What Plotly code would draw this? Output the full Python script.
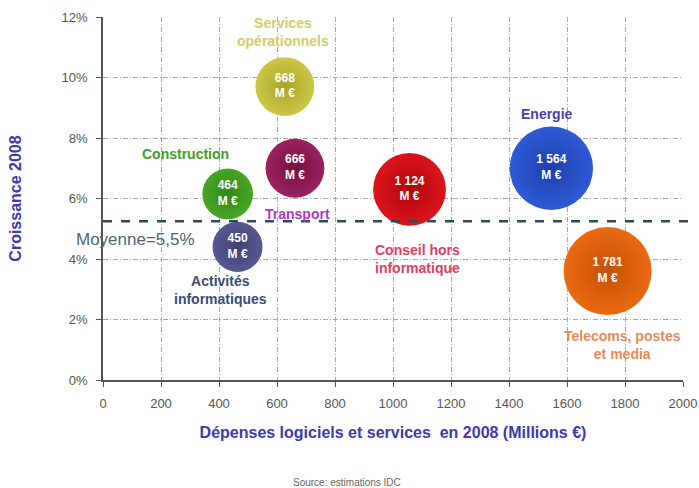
import plotly.graph_objects as go

# ---- data ----
sectors = ["Services opérationnels", "Transport", "Construction", "Activités informatiques",
           "Conseil hors informatique", "Energie", "Telecoms, postes et media"]
spend = [668, 666, 464, 450, 1124, 1564, 1781]          # M€ (bubble labels / sizes)
spend_labels = ["668", "666", "464", "450", "1 124", "1 564", "1 781"]
x_pos = [627, 662, 430, 464, 1057, 1546, 1740]          # position
growth = [9.7, 7.0, 6.15, 4.4, 6.3, 7.0, 3.6]           # % croissance 2008
average = 5.25                                           # dashed "Moyenne" line
x_ticks = [0, 200, 400, 600, 800, 1000, 1200, 1400, 1600, 1800, 2000]
y_ticks = [0, 2, 4, 6, 8, 10, 12]
y_ticklabels = ["0%", "2%", "4%", "6%", "8%", "10%", "12%"]

# ---- styles ----
fill = ["#cdc748", "#9a2260", "#48a626", "#585892", "#dc141c", "#2e5ad6", "#ea6a12"]
edge = ["#aaa42a", "#76103f", "#328816", "#404274", "#b0060c", "#1e40aa", "#c45008"]
label_color = ["#d2cd6a", "#a83cc8", "#3d9e2c", "#3a4c78", "#de4062", "#4a3eb4", "#e88a5a"]
label_text = ["Services<br>opérationnels", "Transport", "Construction", "Activités<br>informatiques",
              "Conseil hors<br>informatique", "Energie", "Telecoms, postes<br>et media"]
label_xy = [(620, 11.5), (669, 5.48), (284, 7.47), (406, 2.99), (1085, 3.99), (1532, 8.8), (1792, 1.16)]
sizes = [88 * (v / max(spend)) ** 0.41 for v in spend]

FONT = "Liberation Sans, Arial"

fig = go.Figure()
fig.add_trace(go.Scatter(
    x=x_pos, y=growth, mode="markers+text",
    text=[f"<b>{s}<br>M €</b>" for s in spend_labels],
    textposition="middle center",
    textfont=dict(family=FONT, size=12, color="white"),
    marker=dict(size=sizes, sizemode="diameter", color=fill, opacity=1,
                line=dict(width=0),
                gradient=dict(type="radial", color=edge)),
    cliponaxis=False, hoverinfo="skip", showlegend=False,
))

for t, (lx, ly), c in zip(label_text, label_xy, label_color):
    fig.add_annotation(x=lx, y=ly, xref="x", yref="y", text=f"<b>{t}</b>",
                       showarrow=False, font=dict(family=FONT, size=14, color=c),
                       xanchor="center", yanchor="middle")

fig.add_shape(type="line", xref="paper", yref="y", x0=0, x1=1.012, y0=average, y1=average,
              line=dict(color="#2c4a5c", width=2.5, dash="dash"), layer="above")
fig.add_annotation(xref="paper", yref="y", x=-0.05, y=4.65, text="Moyenne=5,5%",
                   showarrow=False, xanchor="left", yanchor="middle",
                   font=dict(family=FONT, size=17, color="#4d6474"))

fig.add_annotation(xref="paper", yref="paper", x=0.42, y=-0.283, text="Source: estimations IDC",
                   showarrow=False, xanchor="center", yanchor="middle",
                   font=dict(family="Liberation Sans Narrow, Liberation Sans, Arial", size=10, color="#666"))

axis_common = dict(showgrid=True, gridcolor="#a8a8a8", griddash="5px,2px,1px,2px", gridwidth=1,
                   showline=True, linecolor="#555", linewidth=1.5, ticks="outside",
                   ticklen=5, tickcolor="#555", zeroline=False, automargin=False,
                   tickfont=dict(family=FONT, size=13, color="#555"))

fig.update_xaxes(range=[0, 2000], tickvals=x_ticks, ticklabelstandoff=6, **axis_common,
                 title=dict(text="<b>Dépenses logiciels et services  en 2008 (Millions €)</b>",
                            font=dict(family=FONT, size=16, color="#4038b0"),
                            standoff=16))
fig.update_yaxes(range=[0, 12], tickvals=y_ticks, ticktext=y_ticklabels, ticklabelstandoff=6,
                 **axis_common,
                 title=dict(text="<b>Croissance 2008</b>",
                            font=dict(family=FONT, size=16, color="#4038b0"),
                            standoff=36))

fig.update_layout(width=699, height=488, margin=dict(l=103, r=16, t=17, b=108),
                  plot_bgcolor="white", paper_bgcolor="white")

fig.write_html("out.html")
